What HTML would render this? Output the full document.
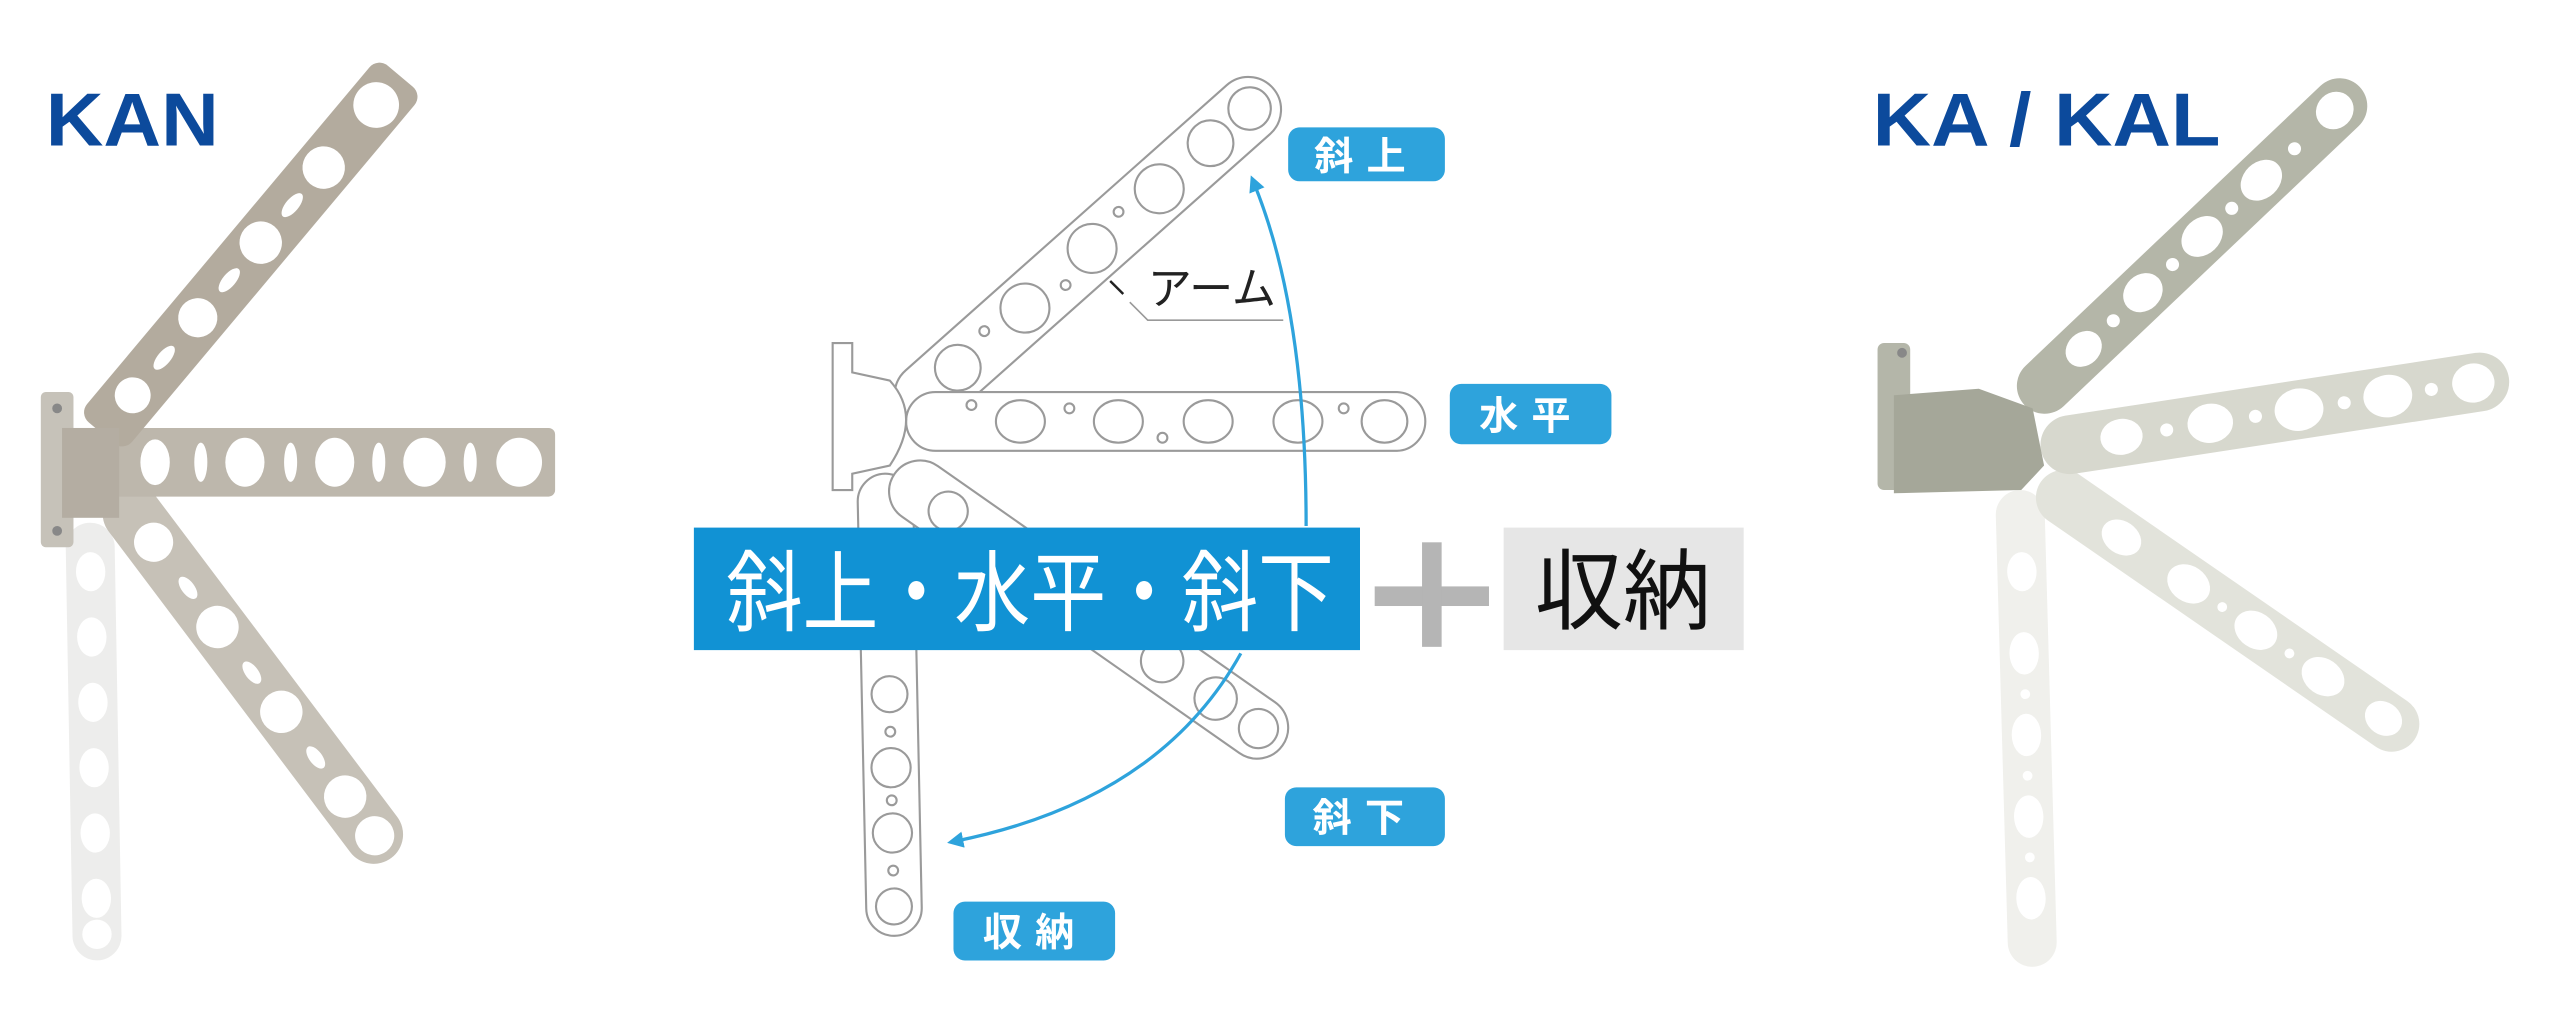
<!DOCTYPE html>
<html><head><meta charset="utf-8"><style>
html,body{margin:0;padding:0;background:#fff;width:2560px;height:1016px;overflow:hidden}
svg{display:block}
text{font-family:"Liberation Sans","Noto Sans CJK JP",sans-serif}
</style></head><body>
<svg width="2560" height="1016" viewBox="0 0 1568 622" preserveAspectRatio="none" xmlns="http://www.w3.org/2000/svg">
<defs>
<marker id="ah" viewBox="0 0 10 10" refX="5" refY="5" markerWidth="5" markerHeight="5" orient="auto-start-reverse"><path d="M0,0 L10,5 L0,10 z" fill="#2ea3dc"/></marker>
</defs>

<!-- KAN left -->
<g transform="translate(55,320) rotate(89)" opacity="0.9">
 <rect x="0" y="-15" width="268" height="30" rx="15" fill="#ececea"/>
 <g fill="#fff"><ellipse cx="30" cy="0" rx="12" ry="9"/><ellipse cx="70" cy="0" rx="12" ry="9"/><ellipse cx="110" cy="0" rx="12" ry="9"/><ellipse cx="150" cy="0" rx="12" ry="9"/><ellipse cx="190" cy="0" rx="12" ry="9"/><ellipse cx="230" cy="0" rx="12" ry="9"/><ellipse cx="252" cy="0" rx="9" ry="9"/></g>
</g>
<g transform="translate(70,300) rotate(53)">
 <rect x="0" y="-18" width="282" height="36" rx="18" fill="#c6c1b7"/>
 <g fill="#fff"><circle cx="40" cy="0" r="12"/><ellipse cx="75" cy="0" rx="8" ry="4"/><circle cx="105" cy="0" r="13"/><ellipse cx="140" cy="0" rx="8" ry="4"/><circle cx="170" cy="0" r="13"/><ellipse cx="205" cy="0" rx="8" ry="4"/><circle cx="235" cy="0" r="13"/><circle cx="265" cy="0" r="12"/></g>
</g>
<g transform="translate(60,283)">
 <rect x="0" y="-21" width="280" height="42" rx="4" fill="#bdb7ac"/>
 <g fill="#fff"><ellipse cx="35" cy="0" rx="9" ry="14"/><ellipse cx="63" cy="0" rx="4" ry="12"/><ellipse cx="90" cy="0" rx="12" ry="15"/><ellipse cx="118" cy="0" rx="4" ry="12"/><ellipse cx="145" cy="0" rx="12" ry="15"/><ellipse cx="172" cy="0" rx="4" ry="12"/><ellipse cx="200" cy="0" rx="13" ry="15"/><ellipse cx="228" cy="0" rx="4" ry="12"/><ellipse cx="258" cy="0" rx="14" ry="15"/></g>
</g>
<g transform="translate(62,265) rotate(-50)">
 <rect x="0" y="-18" width="285" height="36" rx="8" fill="#b3ab9e"/>
 <g fill="#fff"><circle cx="30" cy="0" r="11"/><ellipse cx="60" cy="0" rx="9" ry="4"/><circle cx="92" cy="0" r="12"/><ellipse cx="122" cy="0" rx="9" ry="4"/><circle cx="152" cy="0" r="13"/><ellipse cx="182" cy="0" rx="9" ry="4"/><circle cx="212" cy="0" r="13"/><circle cx="262" cy="0" r="14"/></g>
</g>
<rect x="25" y="240" width="20" height="95" rx="3" fill="#c6c2b9"/>
<rect x="38" y="262" width="35" height="55" fill="#b4ada2"/>
<circle cx="35" cy="250" r="3" fill="#888"/><circle cx="35" cy="325" r="3" fill="#888"/>
<text x="28" y="89" font-size="46" font-weight="bold" fill="#0c4a9c" textLength="106" lengthAdjust="spacingAndGlyphs">KAN</text>

<!-- center diagram -->
<g fill="#fff" stroke="#9a9a9a" stroke-width="1.3">
 <g transform="translate(542,290) rotate(88.8)">
  <rect x="0" y="-17" width="283" height="34" rx="17"/>
  <circle cx="135" cy="0" r="11"/><circle cx="180" cy="0" r="12"/><circle cx="220" cy="0" r="12"/><circle cx="265" cy="0" r="11"/><circle cx="158" cy="0" r="3"/><circle cx="200" cy="0" r="3"/><circle cx="243" cy="0" r="3"/>
 </g>
 <g transform="translate(548,290) rotate(35)">
  <rect x="0" y="-19" width="290" height="38" rx="19"/>
  <circle cx="40" cy="0" r="12"/><circle cx="200" cy="0" r="13"/><circle cx="240" cy="0" r="13"/><circle cx="272" cy="0" r="12"/>
 </g>
 <g transform="translate(553,255) rotate(-41.6)">
  <rect x="0" y="-20" width="303" height="40" rx="20"/>
  <circle cx="45" cy="0" r="14"/><circle cx="100" cy="0" r="15"/><circle cx="155" cy="0" r="15"/><circle cx="210" cy="0" r="15"/><circle cx="252" cy="0" r="14"/><circle cx="284" cy="0" r="13"/><circle cx="72" cy="-6" r="3"/><circle cx="128" cy="6" r="3"/><circle cx="182" cy="-6" r="3"/>
 </g>
 <g transform="translate(555,258)">
  <rect x="0" y="-18" width="318" height="36" rx="18"/>
  <ellipse cx="70" cy="0" rx="15" ry="13"/><ellipse cx="130" cy="0" rx="15" ry="13"/><ellipse cx="185" cy="0" rx="15" ry="13"/><ellipse cx="240" cy="0" rx="15" ry="13"/><ellipse cx="293" cy="0" rx="14" ry="13"/><circle cx="100" cy="-8" r="3"/><circle cx="157" cy="10" r="3"/><circle cx="268" cy="-8" r="3"/><circle cx="40" cy="-10" r="3"/>
 </g>
 <path d="M510,210 L522,210 L522,228 L545,233 Q565,255 545,285 L522,290 L522,300 L510,300 Z"/>
</g>
<!-- arrows -->
<path d="M800,322 Q800,190 768,112" fill="none" stroke="#2ea3dc" stroke-width="2" marker-end="url(#ah)"/>
<path d="M760,400 Q710,490 585,515" fill="none" stroke="#2ea3dc" stroke-width="2" marker-end="url(#ah)"/>
<!-- arm label -->
<path d="M692,185 L703,196 L786,196" fill="none" stroke="#999" stroke-width="1"/>
<path d="M680,172 L688,180" stroke="#222" stroke-width="1.5"/>
<text x="703" y="186" font-size="27" fill="#222">アーム</text>
<!-- tags -->
<g fill="#2ea3dc">
 <rect x="789" y="78" width="96" height="33" rx="7"/>
 <rect x="888" y="235" width="99" height="37" rx="7"/>
 <rect x="787" y="482" width="98" height="36" rx="7"/>
 <rect x="584" y="552" width="99" height="36" rx="7"/>
</g>
<g fill="#fff" font-size="24" font-weight="bold" text-anchor="middle">
 <text x="837" y="104" letter-spacing="8">斜上</text>
 <text x="938" y="263" letter-spacing="8">水平</text>
 <text x="836" y="509" letter-spacing="8">斜下</text>
 <text x="634" y="579" letter-spacing="8">収納</text>
</g>
<!-- main band -->
<rect x="425" y="323" width="408" height="75" fill="#1192d4"/>
<text x="445" y="382" font-size="54" fill="#fff" textLength="372" lengthAdjust="spacingAndGlyphs">斜上・水平・斜下</text>
<rect x="842" y="359" width="70" height="12" fill="#b5b5b5"/>
<rect x="871" y="332" width="12" height="64" fill="#b5b5b5"/>
<rect x="921" y="323" width="147" height="75" fill="#e6e6e6"/>
<text x="994" y="381" font-size="54" fill="#111" text-anchor="middle">収納</text>

<!-- KA / KAL right -->
<g transform="translate(1237,300) rotate(88.4)">
 <rect x="0" y="-15" width="292" height="30" rx="15" fill="#f0f0ec"/>
 <g fill="#fff"><ellipse cx="50" cy="0" rx="12" ry="9"/><ellipse cx="100" cy="0" rx="13" ry="9"/><ellipse cx="150" cy="0" rx="13" ry="9"/><ellipse cx="200" cy="0" rx="13" ry="9"/><ellipse cx="250" cy="0" rx="13" ry="9"/><circle cx="125" cy="0" r="3"/><circle cx="175" cy="0" r="3"/><circle cx="225" cy="0" r="3"/></g>
</g>
<g transform="translate(1250,295) rotate(34.6)">
 <rect x="0" y="-17" width="278" height="34" rx="17" fill="#e2e3db"/>
 <g fill="#fff"><ellipse cx="60" cy="0" rx="13" ry="10"/><ellipse cx="110" cy="0" rx="14" ry="11"/><ellipse cx="160" cy="0" rx="14" ry="11"/><ellipse cx="210" cy="0" rx="14" ry="11"/><ellipse cx="255" cy="0" rx="12" ry="10"/><circle cx="135" cy="0" r="3"/><circle cx="185" cy="0" r="3"/></g>
</g>
<g transform="translate(1250,275) rotate(-8.7)">
 <rect x="0" y="-18" width="290" height="36" rx="18" fill="#d7d8ce"/>
 <g fill="#fff"><ellipse cx="50" cy="0" rx="13" ry="11"/><ellipse cx="105" cy="0" rx="14" ry="12"/><ellipse cx="160" cy="0" rx="15" ry="13"/><ellipse cx="215" cy="0" rx="15" ry="13"/><ellipse cx="268" cy="0" rx="13" ry="12"/><circle cx="78" cy="0" r="4"/><circle cx="133" cy="0" r="4"/><circle cx="188" cy="0" r="4"/><circle cx="242" cy="0" r="4"/></g>
</g>
<g transform="translate(1240,248) rotate(-43.5)">
 <rect x="0" y="-17" width="283" height="34" rx="17" fill="#b4b6a8"/>
 <g fill="#fff"><ellipse cx="50" cy="0" rx="12" ry="10"/><ellipse cx="100" cy="0" rx="13" ry="11"/><ellipse cx="150" cy="0" rx="14" ry="11"/><ellipse cx="200" cy="0" rx="14" ry="11"/><ellipse cx="262" cy="0" rx="12" ry="11"/><circle cx="75" cy="0" r="4"/><circle cx="125" cy="0" r="4"/><circle cx="175" cy="0" r="4"/><circle cx="228" cy="0" r="4"/></g>
</g>
<rect x="1150" y="210" width="20" height="90" rx="4" fill="#b4b6a9"/>
<circle cx="1165" cy="216" r="3" fill="#888"/>
<path d="M1160,242 L1212,238 L1245,250 L1252,285 L1238,300 L1160,302 Z" fill="#a5a799"/>
<text x="1147" y="89" font-size="46" font-weight="bold" fill="#0c4a9c" textLength="213" lengthAdjust="spacingAndGlyphs">KA / KAL</text>
</svg>
</body></html>
